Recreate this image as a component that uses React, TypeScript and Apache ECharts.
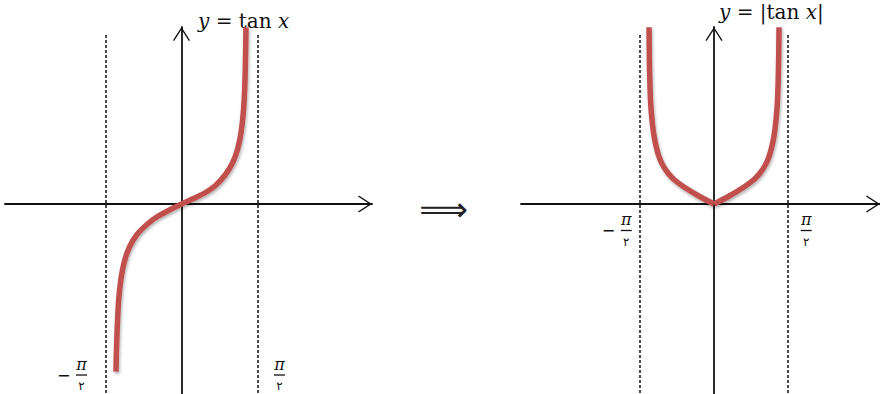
import React, { useEffect, useRef } from 'react';
import * as echarts from 'echarts';

// y = tan x (left panel), x in radians, y in drawing units
const TAN_X = [-1.354, -1.346, -1.329, -1.298, -1.251, -1.178, -1.075, -0.92, -0.703, -0.496, -0.248, 0, 0.248, 0.496, 0.703, 0.909, 1.054, 1.158, 1.23, 1.277, 1.308, 1.325, 1.333];
const TAN_Y = [-4.19, -3.75, -3.125, -2.4, -1.875, -1.425, -1.075, -0.7625, -0.5, -0.3125, -0.15, 0, 0.1375, 0.2875, 0.4625, 0.7375, 1.025, 1.3625, 1.775, 2.275, 2.925, 3.75, 4.42];

// y = |tan x| (right panel), two branches meeting at the cusp
const ABS_LEFT_X = [-1.376, -1.37, -1.359, -1.34, -1.312, -1.27, -1.217, -1.154, -1.08, -0.974, -0.847, -0.635, -0.286, 0];
const ABS_LEFT_Y = [4.42, 3.75, 3.1, 2.5, 2.1, 1.7, 1.4, 1.15, 0.9625, 0.775, 0.6125, 0.425, 0.175, 0];
const ABS_RIGHT_X = [0, 0.286, 0.635, 0.847, 0.974, 1.08, 1.154, 1.217, 1.27, 1.312, 1.34, 1.359, 1.37, 1.376];
const ABS_RIGHT_Y = [0, 0.175, 0.425, 0.6125, 0.775, 0.9625, 1.15, 1.4, 1.7, 2.1, 2.5, 3.1, 3.75, 4.42];

const ASYMPTOTES = [-Math.PI / 2, Math.PI / 2];
const DASH_TOP = 4.225;
const Y_MIN = -4.75;
const Y_MAX = 4.425;

const TITLE_LEFT = '{i|y} = tan {i|x}';
const TITLE_RIGHT = '{i|y} = |tan {i|x}|';
const IMPLIES = '⟹';
const NEG_LABEL = '{sp| }{n|π}\n{m|−}{bar| }\n{sp| }{d|٢}';
const POS_LABEL = '{n|π}\n{bar| }\n{d|٢}';

const CHEVRON = 'path://M8.5,0 L17,13.2 L15.9,14 L8.5,2.5 L1.1,14 L0,13.2 Z';
const RED = '#C0504D';

const zip = (xs: number[], ys: number[]) => xs.map((x, i) => [x, ys[i]]);

const labelRich = {
  sp: { width: 19, lineHeight: 11 },
  m: { width: 19, align: 'left', fontSize: 16, lineHeight: 11, fontFamily: 'DejaVu Sans', color: '#111' },
  n: { width: 11, align: 'center', fontSize: 16, lineHeight: 11, fontFamily: 'DejaVu Serif', fontStyle: 'italic', color: '#111' },
  bar: { width: 11, height: 1.3, lineHeight: 11, backgroundColor: '#111' },
  d: { width: 11, align: 'center', fontSize: 12, lineHeight: 11, fontFamily: 'DejaVu Sans', color: '#111' },
};

const curveStyle = {
  color: RED,
  width: 5.5,
  join: 'round',
  shadowColor: 'rgba(0,0,0,0.3)',
  shadowBlur: 3,
  shadowOffsetX: 1,
  shadowOffsetY: 2,
};

const asymMarkLine = {
  silent: true,
  symbol: ['none', 'none'],
  label: { show: false },
  lineStyle: { type: [3, 2], color: '#111', width: 1.5 },
  emphasis: { disabled: true },
  data: ASYMPTOTES.map((a) => [{ coord: [a, DASH_TOP] }, { coord: [a, Y_MIN] }]),
};

const makeLabels = (dy: number, negDx: number, posDx: number) => ({
  silent: true,
  symbol: 'circle',
  symbolSize: 1,
  itemStyle: { color: 'rgba(0,0,0,0)' },
  label: { show: true, position: 'inside', rich: labelRich },
  data: [
    { coord: [ASYMPTOTES[0], 0], label: { formatter: NEG_LABEL, offset: [negDx, dy] } },
    { coord: [ASYMPTOTES[1], 0], label: { formatter: POS_LABEL, offset: [posDx, dy] } },
  ],
});

const axisBase = {
  type: 'value',
  axisTick: { show: false },
  axisLabel: { show: false },
  splitLine: { show: false },
  axisLine: {
    show: true,
    onZero: true,
    symbol: ['none', CHEVRON],
    symbolSize: [17, 14],
    symbolOffset: [0, -7],
    lineStyle: { color: '#111', width: 1.8 },
  },
};

const curveSeries = (xi: number, data: number[][], extra: object) => ({
  type: 'line', xAxisIndex: xi, yAxisIndex: xi, data,
  smooth: 0.3, showSymbol: false, lineStyle: curveStyle, z: 3,
  ...extra,
});

export default function App() {
  const ref = useRef<HTMLDivElement>(null);
  useEffect(() => {
    if (!ref.current) return;
    const chart = echarts.init(ref.current, undefined, { renderer: 'svg' });
    const titleRich = {
      i: { fontStyle: 'italic', fontFamily: 'DejaVu Serif', fontSize: 20, fill: '#111' },
    };
    chart.setOption({
      animation: false,
      backgroundColor: '#fff',
      grid: [
        { left: 5, top: 27, width: 367, height: 367 },
        { left: 521, top: 27, width: 359, height: 367 },
      ],
      xAxis: [
        { ...axisBase, gridIndex: 0, min: -3.648, max: 3.938 },
        { ...axisBase, gridIndex: 1, min: -4.086, max: 3.514 },
      ],
      yAxis: [
        { ...axisBase, gridIndex: 0, min: Y_MIN, max: Y_MAX },
        { ...axisBase, gridIndex: 1, min: Y_MIN, max: Y_MAX },
      ],
      series: [
        curveSeries(0, zip(TAN_X, TAN_Y), { markLine: asymMarkLine, markPoint: makeLabels(171, -33.5, 22) }),
        curveSeries(1, zip(ABS_LEFT_X, ABS_LEFT_Y), { markLine: asymMarkLine, markPoint: makeLabels(26.5, -23, 18) }),
        curveSeries(1, zip(ABS_RIGHT_X, ABS_RIGHT_Y), {}),
      ],
      graphic: [
        {
          type: 'text', x: 198, y: 21,
          style: { text: TITLE_LEFT, rich: titleRich, fontFamily: 'DejaVu Serif', fontSize: 20, fill: '#111', verticalAlign: 'middle' },
        },
        {
          type: 'text', x: 719, y: 12,
          style: { text: TITLE_RIGHT, rich: titleRich, fontFamily: 'DejaVu Serif', fontSize: 20, fill: '#111', verticalAlign: 'middle' },
        },
        {
          type: 'text', x: 443.5, y: 209,
          style: { text: IMPLIES, fontFamily: 'DejaVu Sans', fontSize: 34, fill: '#222', align: 'center', verticalAlign: 'middle' },
        },
      ],
    });
    return () => chart.dispose();
  }, []);
  return <div ref={ref} style={{ position: 'fixed', left: 0, top: 0, width: 880, height: 394 }} />;
}
